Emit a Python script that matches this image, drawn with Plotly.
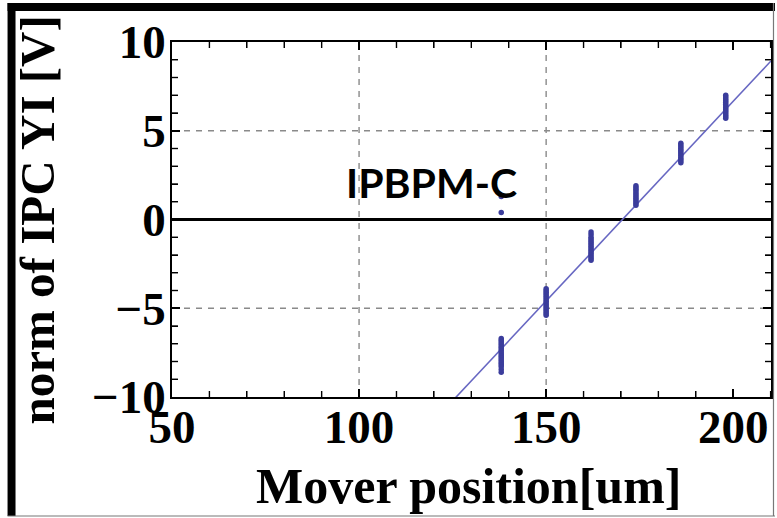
import plotly.graph_objects as go

# Mover positions (um) and the normalised IPC YI readings taken at each one
positions = [138, 150, 162, 174, 186, 198]
readings = {
    138: [-6.7, -6.8, -6.9, -7.0, -7.1, -7.2, -7.3, -7.4, -7.5, -7.6, -7.7, -7.8,
          -7.9, -8.0, -8.1, -8.2, -8.3, -8.45, -8.6, 0.4, 1.3],
    150: [-3.9, -4.0, -4.1, -4.2, -4.3, -4.4, -4.5, -4.6, -4.7, -4.8, -4.9,
          -5.0, -5.1, -5.2, -5.3, -5.4],
    162: [-0.7, -0.85, -1.0, -1.1, -1.2, -1.3, -1.4, -1.5, -1.6, -1.7, -1.8,
          -1.9, -2.0, -2.1, -2.2, -2.3],
    174: [1.9, 1.8, 1.7, 1.6, 1.5, 1.4, 1.3, 1.2, 1.1, 1.0, 0.9, 0.8],
    186: [4.3, 4.2, 4.1, 4.0, 3.9, 3.8, 3.7, 3.6, 3.5, 3.4, 3.3, 3.2],
    198: [7.0, 6.9, 6.8, 6.7, 6.6, 6.5, 6.4, 6.3, 6.2, 6.1, 6.0, 5.9, 5.8, 5.7],
}

# Linear fit: slope (V/um) and the position where it crosses zero
fit_slope = 0.225
fit_zero = 170.4

x_range = [50, 210.1]
y_range = [-10, 10]
x_tick_start, x_tick_step, x_minor_step = 50, 50, 10
y_tick_start, y_tick_step, y_minor_step = 0, 5, 1
grid_x = [100, 150]
grid_y = [-5, 5]

label = "IPBPM-C"
x_title = "Mover position[um]"
y_title = "norm of IPC YI [V]"

W, H = 777, 518
L, R, T, B = 172, 4, 42, 121
pw, ph = W - L - R, H - T - B


def px(x):
    return (x - L) / pw


def py(y):
    return (H - B - y) / ph


pts_x, pts_y = [], []
for p in positions:
    for v in readings[p]:
        pts_x.append(p)
        pts_y.append(v)

fig = go.Figure()

fig.add_trace(go.Scatter(
    x=x_range,
    y=[fit_slope * (x - fit_zero) for x in x_range],
    mode="lines",
    line=dict(color="#6767c2", width=1.6),
    hoverinfo="skip",
    showlegend=False,
))

fig.add_trace(go.Scatter(
    x=pts_x, y=pts_y,
    mode="markers",
    marker=dict(color="#3b3d9c", size=5.5, line=dict(width=0)),
    showlegend=False,
))

serif = dict(family="Liberation Serif", size=47, color="black", weight="bold")

axis_common = dict(
    showline=True, linecolor="black", linewidth=1.5,
    mirror="allticks", ticks="inside", ticklen=8, tickwidth=1.6, tickcolor="black",
    showgrid=False, tickfont=serif,
)

fig.update_xaxes(
    range=x_range, tickmode="linear", tick0=x_tick_start, dtick=x_tick_step,
    zeroline=False,
    minor=dict(ticks="inside", ticklen=6, tickwidth=1.4, tickcolor="black",
               dtick=x_minor_step, tick0=x_tick_start, showgrid=False),
    ticklabelstandoff=-12,
    **axis_common,
)
fig.update_yaxes(
    range=y_range, tickmode="linear", tick0=y_tick_start, dtick=y_tick_step,
    zeroline=True, zerolinecolor="black", zerolinewidth=2.6,
    minor=dict(ticks="inside", ticklen=6, tickwidth=1.4, tickcolor="black",
               dtick=y_minor_step, tick0=y_tick_start, showgrid=False),
    ticklabelstandoff=-5,
    **axis_common,
)

shapes = []
for gx in grid_x:
    shapes.append(dict(type="line", xref="x", yref="paper", x0=gx, x1=gx, y0=0, y1=1,
                       line=dict(color="#8a8a8a", width=1.4, dash="6px,6px"), layer="below"))
for gy in grid_y:
    shapes.append(dict(type="line", xref="paper", yref="y", x0=0, x1=1, y0=gy, y1=gy,
                       line=dict(color="#8a8a8a", width=1.4, dash="6px,6px"), layer="below"))

# tick marks on all four sides of the frame, pointing inwards
tick_line = dict(color="black", width=1.4)
xv = x_tick_start + x_minor_step
while xv < x_range[1]:
    n = (8 if (xv - x_tick_start) % x_tick_step == 0 else 6) / ph
    shapes.append(dict(type="line", xref="x", yref="paper", x0=xv, x1=xv,
                       y0=0, y1=n, line=tick_line))
    shapes.append(dict(type="line", xref="x", yref="paper", x0=xv, x1=xv,
                       y0=1 - n, y1=1, line=tick_line))
    xv += x_minor_step
yv = y_range[0] + y_minor_step
while yv < y_range[1]:
    n = (8 if yv % y_tick_step == 0 else 6) / pw
    shapes.append(dict(type="line", xref="paper", yref="y", x0=0, x1=n,
                       y0=yv, y1=yv, line=tick_line))
    shapes.append(dict(type="line", xref="paper", yref="y", x0=1 - n, x1=1,
                       y0=yv, y1=yv, line=tick_line))
    yv += y_minor_step

# slide frame: heavy black on the left and top, thin grey on the right and bottom
shapes.append(dict(type="rect", xref="paper", yref="paper",
                   x0=px(7), x1=px(15), y0=py(516), y1=py(3),
                   fillcolor="black", line=dict(width=0)))
shapes.append(dict(type="rect", xref="paper", yref="paper",
                   x0=px(7), x1=px(777), y0=py(11), y1=py(3),
                   fillcolor="black", line=dict(width=0)))
shapes.append(dict(type="line", xref="paper", yref="paper",
                   x0=px(775.5), x1=px(775.5), y0=py(516), y1=py(3),
                   line=dict(color="#777777", width=1.2)))
shapes.append(dict(type="line", xref="paper", yref="paper",
                   x0=px(7), x1=px(777), y0=py(516), y1=py(516),
                   line=dict(color="#777777", width=1.2)))

annotations = [
    dict(text=label, xref="paper", yref="paper", x=px(432), y=py(182),
         xanchor="center", yanchor="middle", showarrow=False,
         font=dict(family="Lato", size=41, color="black", weight="bold")),
    dict(text=x_title, xref="paper", yref="paper", x=px(469), y=py(486),
         xanchor="center", yanchor="middle", showarrow=False,
         font=dict(family="Liberation Serif", size=50, color="black", weight="bold")),
    dict(text=y_title, xref="paper", yref="paper", x=px(37), y=py(220),
         xanchor="center", yanchor="middle", showarrow=False, textangle=-90,
         font=dict(family="Liberation Serif", size=49, color="black", weight="bold")),
]

fig.update_layout(
    width=W, height=H,
    margin=dict(l=L, r=R, t=T, b=B),
    paper_bgcolor="white", plot_bgcolor="white",
    shapes=shapes, annotations=annotations,
    showlegend=False,
)

fig.write_html("out.html")
